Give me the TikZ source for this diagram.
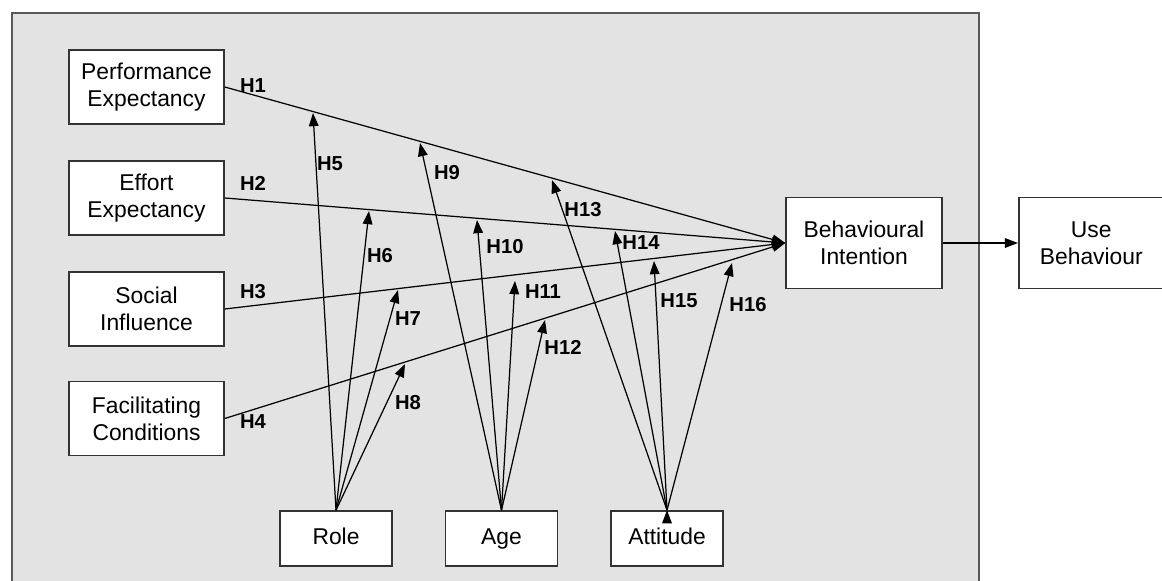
\documentclass[tikz,border=0pt]{standalone}
\usepackage{fontspec}
\setmainfont{Liberation Sans}
\usetikzlibrary{positioning, arrows.meta}

\tikzset{
  factor/.style={draw=black!80, line width=0.9pt, fill=white, align=center,
    font=\fontsize{13}{15.5}\selectfont, inner sep=0pt},
  wide/.style={factor, minimum width=3.1cm, minimum height=1.48cm},
  moder/.style={factor, minimum width=2.24cm, minimum height=1.1cm,
    text height=9.5pt, text depth=2.5pt},
  hyp/.style={font=\bfseries\fontsize{11.5}{13}\selectfont, inner sep=0pt},
  link/.style={line width=0.7pt, -{Triangle[length=7.5pt,width=5.5pt]}}
}

\begin{document}
\begin{tikzpicture}[x=0.02cm, y=-0.02cm]
\useasboundingbox (0,0) rectangle (1162,581);
\fill[white] (0,0) rectangle (1162,581);
\draw[draw=black!65, line width=1.3pt, fill=black!11] (12,13) rectangle (979,600);

\node[wide] (pe) at (146.5,87) {Performance\\Expectancy};
\node[wide] (ee) at (146.5,198) {Effort\\Expectancy};
\node[wide] (si) at (146.5,309) {Social\\Influence};
\node[wide] (fc) at (146.5,418.5) {Facilitating\\Conditions};
\node[moder] (role) at (336,538.5) {Role};
\node[moder] (age) at (501.5,538.5) {Age};
\node[moder] (att) at (667,538.5) {Attitude};
\node[factor, minimum width=3.12cm, minimum height=1.82cm] (bi) at (864,243) {Behavioural\\Intention};
\node[factor, minimum width=2.9cm, minimum height=1.82cm, anchor=west] (ub) at (1018,243) {Use\\Behaviour};

\coordinate (t5) at (313,113);
\coordinate (t6) at (369,211);
\coordinate (t7) at (398,290);
\coordinate (t8) at (405,364);
\coordinate (t9) at (420,143);
\coordinate (t10) at (477,220);
\coordinate (t11) at (515,281);
\coordinate (t12) at (545,320);
\coordinate (t13) at (552,180);
\coordinate (t14) at (615,231);
\coordinate (t15) at (654,261);
\coordinate (t16) at (732,263);

\draw[link]
    (pe.east) edge (bi.west)
    (ee.east) edge (bi.west)
    (si.east) edge (bi.west)
    (fc.east) edge (bi.west)
    (bi.east) edge (ub.west)
    (role.north) edge (t5)
    (role.north) edge (t6)
    (role.north) edge (t7)
    (role.north) edge (t8)
    (age.north) edge (t9)
    (age.north) edge (t10)
    (age.north) edge (t11)
    (age.north) edge (t12)
    (att.north) edge (t13)
    (att.north) edge (t14)
    (att.north) edge (t15)
    (att.north) edge (t16);

\node[hyp] (h1) at (253,86) {H1};
\node[hyp] (h2) at (253,183) {H2};
\node[hyp] (h3) at (253,292) {H3};
\node[hyp] (h4) at (253,422) {H4};
\node[hyp] (h5) at (330,164) {H5};
\node[hyp] (h6) at (380,256) {H6};
\node[hyp] (h7) at (408,319) {H7};
\node[hyp] (h8) at (408,403) {H8};
\node[hyp] (h9) at (447,173) {H9};
\node[hyp] (h10) at (505,247) {H10};
\node[hyp] (h11) at (543,292) {H11};
\node[hyp] (h12) at (563,347) {H12};
\node[hyp] (h13) at (583,210) {H13};
\node[hyp] (h14) at (641,243) {H14};
\node[hyp] (h15) at (679,301) {H15};
\node[hyp] (h16) at (748,305) {H16};
\end{tikzpicture}
\end{document}
